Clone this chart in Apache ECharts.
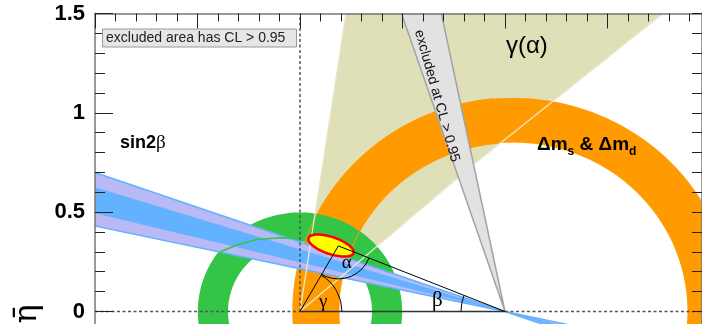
<!DOCTYPE html>
<html><head><meta charset="utf-8">
<script src="https://cdn.jsdelivr.net/npm/echarts@6/dist/echarts.min.js"></script>
<style>html,body{margin:0;padding:0;background:#fff}#c{width:702px;height:324px}</style>
</head><body><div id="c"></div>
<script>
// ================= DATA (rho-bar / eta-bar plane) =================
const yTickValues = [0, 0.5, 1, 1.5];
const yTickLabels = ['0', '0.5', '1', '1.5'];
// gamma(alpha) region: left edge (ray from origin) and right-edge vertices
const gammaApex = [0, 0];
const gammaLeftAngle = 81.5;
const gammaRightEdge = [[0, 0], [0.862, 0.7526], [1.2537, 1.0747], [1.771, 1.5], [2.2, 1.85]];
// "excluded at CL > 0.95" wedge
const exclApex = [1, 0];
const exclAngles = [101.7, 108.6];
// Δms & Δmd ring
const dmCenter = [1.04, 0];
const dmRadii = [0.85, 1.075];
// |Vub/Vcb| ring
const vubCenter = [0, 0];
const vubRadii = [0.351, 0.4985];
const vubInnerLine = [[-0.39, 0.301], [-0.30, 0.337], [-0.211, 0.362], [-0.10, 0.371], [-0.008, 0.369]];
// sin2β bands (from apex (1,0), degrees)
const sinApex = [1, 0];
const sinOuterAngles = [160.74, 167.85];
const sinInnerAngles = [162.64, 166.12];
// global fit region
const fitCenter = [0.151, 0.332];
const fitMajor = [0.1097, -0.0377];
const fitMinor = [0.0131, 0.0406];
// unitarity triangle
const triApex = [0.187, 0.330];
const triBase = [[0, 0], [1, 0]];

// ================= STYLE =================
const C = {
  tan: '#dfdfb8', tanLine: '#e9e9cc', orange: '#ff9a00', green: '#35c546',
  blue: '#62b2ff', lav: '#b9b9f6', wedge: '#e2e2e2', wedgeLine: '#a3a3a3',
  yellow: '#ffff00', red: '#ff0000', dash: '#555'
};
const FAR = 4;

function arcPts(c, r, a0, a1, n) {
  const out = [];
  for (let i = 0; i <= n; i++) {
    const a = (a0 + (a1 - a0) * i / n) * Math.PI / 180;
    out.push([c[0] + r * Math.cos(a), c[1] + r * Math.sin(a)]);
  }
  return out;
}
function rayEnd(c, r, deg) {
  const a = deg * Math.PI / 180;
  return [c[0] + r * Math.cos(a), c[1] + r * Math.sin(a)];
}
function ringPts(c, radii, a0, a1) {
  return arcPts(c, radii[1], a0, a1, 160).concat(arcPts(c, radii[0], a1, a0, 160));
}
function wedge(apex, ang) {
  return [apex, rayEnd(apex, FAR, ang[0]), rayEnd(apex, FAR, ang[1])];
}
function bowtie(apex, ang) {
  return [rayEnd(apex, FAR, ang[0]), rayEnd(apex, FAR, ang[1]), apex,
          rayEnd(apex, FAR, ang[0] + 180), rayEnd(apex, FAR, ang[1] + 180), apex];
}
function ellipsePts(c, a, b, n) {
  const out = [];
  for (let i = 0; i < n; i++) {
    const t = 2 * Math.PI * i / n;
    out.push([c[0] + a[0] * Math.cos(t) + b[0] * Math.sin(t), c[1] + a[1] * Math.cos(t) + b[1] * Math.sin(t)]);
  }
  return out;
}

function renderAll(params, api) {
  const P = p => api.coord(p);
  const ch = [];
  const poly = (arr, style) => ch.push({ type: 'polygon', shape: { points: arr.map(P) }, style: style });
  const line = (arr, style) => ch.push({ type: 'polyline', shape: { points: arr.map(P) }, style: Object.assign({ fill: 'none' }, style) });

  const gLeftEnd = rayEnd(gammaApex, FAR, gammaLeftAngle);
  poly(gammaRightEdge.concat([gLeftEnd]), { fill: C.tan });
  poly(ringPts(dmCenter, dmRadii, -30, 210), { fill: C.orange });
  poly(ringPts(vubCenter, vubRadii, -40, 220), { fill: C.green });
  line(arcPts(dmCenter, dmRadii[0], 95, 185, 80), { stroke: C.orange, lineWidth: 1 });
  line(arcPts(dmCenter, dmRadii[1], 95, 185, 80), { stroke: C.orange, lineWidth: 1 });
  poly(bowtie(sinApex, sinOuterAngles), { fill: C.lav, stroke: C.blue, lineWidth: 1.5 });
  poly(bowtie(sinApex, sinInnerAngles), { fill: C.blue });
  line(vubInnerLine, { stroke: C.green, lineWidth: 1.5 });
  line([gammaApex, gLeftEnd], { stroke: C.tanLine, lineWidth: 1.3 });
  line(gammaRightEdge, { stroke: C.tanLine, lineWidth: 1.3 });
  poly(wedge(exclApex, exclAngles), { fill: C.wedge, stroke: C.wedgeLine, lineWidth: 1.5 });
  line([[-1, 0], [0, 0]], { stroke: C.dash, lineWidth: 1.5, lineDash: [3, 2.5] });
  line([[1, 0], [2, 0]], { stroke: C.dash, lineWidth: 1.5, lineDash: [3, 2.5] });
  line([[0, 0], [0, 1.5]], { stroke: C.dash, lineWidth: 1.5, lineDash: [3, 2.5] });
  poly(ellipsePts(fitCenter, fitMajor, fitMinor, 80), { fill: C.yellow, stroke: C.red, lineWidth: 2.5 });
  line(triBase, { stroke: '#333', lineWidth: 1.5 });
  line([triBase[0], triApex, triBase[1]], { stroke: '#000', lineWidth: 1 });
  const O = P(triBase[0]), B = P(triBase[1]), A = P(triApex);
  const aOA = Math.atan2(A[1] - O[1], A[0] - O[0]);
  const aBA = Math.atan2(A[1] - B[1], A[0] - B[0]);
  const aAB = Math.atan2(B[1] - A[1], B[0] - A[0]);
  const aAO = Math.atan2(O[1] - A[1], O[0] - A[0]);
  const arc = (c, r, s, e) => ch.push({ type: 'arc', shape: { cx: c[0], cy: c[1], r: r, startAngle: s, endAngle: e, clockwise: true }, style: { stroke: '#000', fill: 'none', lineWidth: 1 } });
  arc(O, 42, aOA, 0);
  arc(B, 44, Math.PI, aBA + 2 * Math.PI);
  arc(A, 33, aAB, aAO);

  return {
    type: 'group',
    clipPath: { type: 'rect', shape: { x: params.coordSys.x, y: params.coordSys.y, width: params.coordSys.width, height: params.coordSys.height } },
    children: ch
  };
}

const chart = echarts.init(document.getElementById('c'), null, { renderer: 'canvas' });
const tickStyle = { color: '#222', width: 1 };
const GRID_TOP = 13.5, GRID_H = 397.3;
chart.setOption({
  animation: false,
  grid: [
    { left: 95, top: GRID_TOP, width: 615, height: GRID_H, outerBoundsMode: 'none', containLabel: false },
    { left: 95, top: GRID_TOP, width: 607, height: GRID_H, outerBoundsMode: 'none', containLabel: false }
  ],
  xAxis: [
    { gridIndex: 0, type: 'value', position: 'top', min: -1, max: 2, interval: 0.5, z: 10,
      axisLine: { show: true, onZero: false, lineStyle: { color: '#777', width: 1.5 } },
      axisTick: { show: true, inside: true, length: 15, lineStyle: tickStyle },
      minorTick: { show: true, splitNumber: 5, length: 8, lineStyle: tickStyle },
      axisLabel: { show: false }, splitLine: { show: false } },
    { gridIndex: 1, type: 'value', min: -1, max: 1.961, show: false }
  ],
  yAxis: [
    { gridIndex: 0, type: 'value', position: 'left', min: -0.5, max: 1.5, interval: 0.5, z: 10,
      axisLine: { show: true, onZero: false, lineStyle: { color: '#777', width: 1.5 } },
      axisTick: { show: true, inside: true, length: 18, lineStyle: tickStyle },
      minorTick: { show: true, splitNumber: 5, length: 10, lineStyle: tickStyle },
      axisLabel: { margin: 10, fontSize: 22, fontWeight: 'bold', fontFamily: 'Liberation Sans', color: '#000', showMaxLabel: true,
        formatter: v => { const i = yTickValues.findIndex(t => Math.abs(t - v) < 1e-9); return i >= 0 ? yTickLabels[i] : ''; } },
      splitLine: { show: false } },
    { gridIndex: 1, type: 'value', position: 'right', min: -0.5, max: 1.5, interval: 0.5, z: 10,
      axisLine: { show: true, onZero: false, lineStyle: { color: '#777', width: 1.5 } },
      axisTick: { show: true, inside: true, length: 10, lineStyle: tickStyle },
      minorTick: { show: true, splitNumber: 5, length: 10, lineStyle: tickStyle },
      axisLabel: { show: false }, splitLine: { show: false } }
  ],
  series: [{ type: 'custom', xAxisIndex: 0, yAxisIndex: 0, silent: true, data: [[0, 0]], renderItem: renderAll, z: 2 }]
});

// ================= TEXT =================
const px = p => chart.convertToPixel({ gridIndex: 0 }, p);
const ctx = document.createElement('canvas').getContext('2d');
const tw = (t, f) => { ctx.font = f; return ctx.measureText(t).width; };
const SANS = '"Liberation Sans", Arial, sans-serif';
const SERIF = '"Liberation Serif", "DejaVu Serif", serif';
const g = [];
function txt(x, y, t, font, align, vAlign, rot, fill) {
  g.push({ type: 'text', x: x, y: y, rotation: rot || 0, z: 100,
    style: { text: t, font: font, fill: fill || '#000', textAlign: align || 'center', textVerticalAlign: vAlign || 'middle' } });
}
g.push({ type: 'rect', z: 99, shape: { x: 102.5, y: 29, width: 194, height: 18 }, style: { fill: '#e6e6e6', stroke: '#9a9a9a', lineWidth: 1 } });
txt(106, 38.5, 'excluded area has CL > 0.95', '14px ' + SANS, 'left', 'middle', 0, '#222');
{
  const p = px([-0.878, 0.846]);
  const f1 = 'bold 18px ' + SANS, f2 = '19px ' + SERIF;
  txt(p[0], p[1], 'sin2', f1, 'left');
  txt(p[0] + tw('sin2', f1), p[1], 'β', f2, 'left');
}
{ const p = px([1.107, 1.336]); txt(p[0], p[1], 'γ(α)', '24px ' + SANS, 'center'); }
{
  const p = px([1.156, 0.838]);
  const f1 = 'bold 19px ' + SANS, f2 = 'bold 12px ' + SANS;
  let x = p[0];
  txt(x, p[1], 'Δm', f1, 'left'); x += tw('Δm', f1);
  txt(x, p[1] + 7, 's', f2, 'left'); x += tw('s', f2);
  txt(x, p[1], ' & Δm', f1, 'left'); x += tw(' & Δm', f1);
  txt(x, p[1] + 7, 'd', f2, 'left');
}
{ const p = px([0.668, 1.085]); txt(p[0], p[1], 'excluded at CL > 0.95', '14px ' + SANS, 'center', 'middle', -74.4 * Math.PI / 180, '#111'); }
{ const p = px([0.228, 0.243]); txt(p[0], p[1], 'α', '19px ' + SERIF, 'center'); }
{ const p = px([0.670, 0.0564]); txt(p[0], p[1], 'β', '21px ' + SERIF, 'center'); }
{ const p = px([0.1137, 0.0493]); txt(p[0], p[1], 'γ', '19px ' + SERIF, 'center'); }
txt(28, 314, 'η̄', '32px "DejaVu Serif", serif', 'center', 'middle', Math.PI / 2);
chart.setOption({ graphic: g });
</script>
</body></html>
